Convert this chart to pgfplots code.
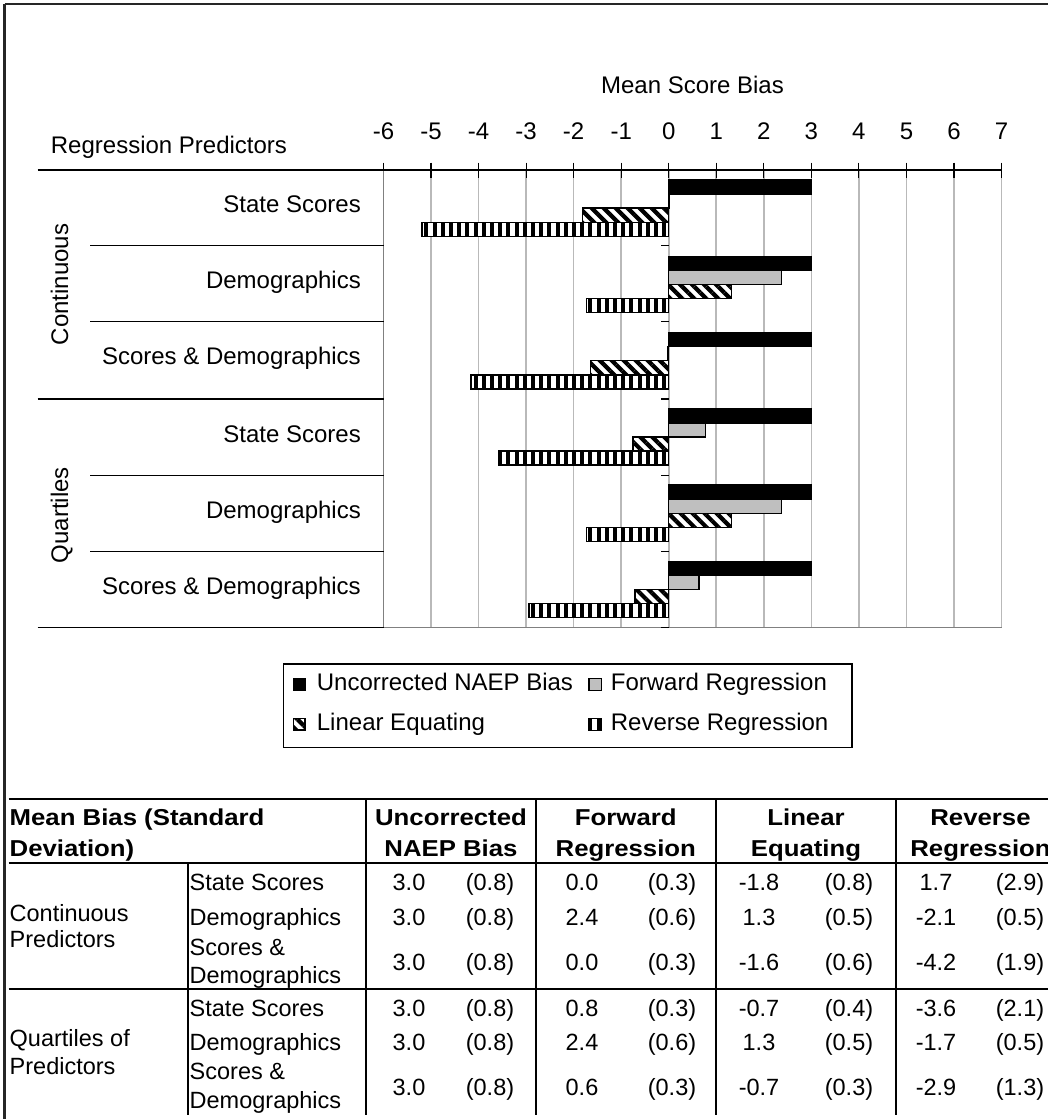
\documentclass[border=0pt]{standalone}
\usepackage{pgfplots}
\usepackage{pgfplotstable}
\pgfplotsset{compat=1.18}
\usepackage{fontspec}
\setmainfont{Liberation Sans}
\newfontfamily\hdfont{Liberation Sans}[FakeStretch=1.12]
\usetikzlibrary{patterns.meta}

\newcommand{\chartfont}{\fontsize{24}{28}\selectfont}
\newcommand{\tabfont}{\fontsize{23.5}{27}\selectfont}
\newcommand{\hdrfont}{\hdfont\bfseries\fontsize{23}{27}\selectfont}

\tikzset{
  lineq/.style={pattern={Lines[angle=-45,distance=8.5pt,line width=4.2pt]}},
  revreg/.style={pattern={Lines[angle=90,distance=8.2pt,line width=4pt]}},
}

% bar lengths (top group first)
\pgfplotstableread{
pos unc fwd lin rev
5 3.0 0.02 -1.81 -5.19
4 3.0 2.37 1.32 -1.73
3 3.0 -0.02 -1.65 -4.16
2 3.0 0.77 -0.75 -3.57
1 3.0 2.37 1.32 -1.73
0 3.0 0.64 -0.71 -2.94
}\biasdata

\begin{document}
\begin{tikzpicture}
\useasboundingbox (0,0) rectangle (1048pt,-1119pt);
\clip (0,0) rectangle (1048pt,-1119pt);

\begin{axis}[
  at={(383.5pt,-170pt)}, anchor=north west,
  scale only axis, width=618pt, height=457.7pt,
  xbar, bar width=14.1pt,
  xmin=-6, xmax=7, ymin=-0.5, ymax=5.5,
  axis x line*=top, axis y line*=left,
  x axis line style={black, line width=1.2pt},
  y axis line style={draw=gray, line width=1.5pt},
  xtick={-6,...,7}, ytick=\empty,
  tick align=center, major tick length=15pt,
  xtick style={black, line width=1.2pt},
  xmajorgrids, grid style={draw=gray!55, line width=1.6pt},
  xticklabel style={font=\chartfont, anchor=base, yshift=23pt},
  /pgf/number format/assume math mode=true,
]
\addplot[draw=black, fill=black, line width=1.4pt, bar shift=21.15pt] table[x=unc, y=pos]{\biasdata};
\addplot[draw=black, fill=gray!50, line width=1.4pt, bar shift=7.05pt] table[x=fwd, y=pos]{\biasdata};
\addplot[draw=black, fill=white, line width=1.4pt, bar shift=-7.05pt, postaction={lineq}] table[x=lin, y=pos]{\biasdata};
\addplot[draw=black, fill=white, line width=1.4pt, bar shift=-21.15pt, postaction={revreg}] table[x=rev, y=pos]{\biasdata};
\end{axis}

\begin{scope}[x=1pt, y=1pt]
  % outer frame
  \draw[line width=2.5pt, black!85] (4.5,-4) -- (1060,-4);
  \draw[line width=2.5pt, black!85] (4.5,-4) -- (4.5,-1130);

  % chart titles
  \node[font=\chartfont, anchor=base, inner sep=0] at (692.5,-93) {Mean Score Bias};
  \node[font=\chartfont, anchor=base west, inner sep=0] at (50.7,-153) {Regression Predictors};

  % bottom of plot area
  \draw[gray, line width=1.5pt] (383.5,-627.7) -- (1001.5,-627.7);

  % category axis lines
  \foreach \yy in {170,399,627.7} \draw[line width=1.2pt] (37.7,-\yy) -- (383.5,-\yy);
  \foreach \yy in {245.7,321.7,475.7,551.7} \draw[line width=1.2pt] (90,-\yy) -- (383.5,-\yy);
  \foreach \yy in {245.7,321.7,399,475.7,551.7,627.7} \draw[line width=1.2pt] (661,-\yy) -- (668.7,-\yy);

  % category labels
  \foreach \yy/\t in {212.3/State Scores, 288/Demographics, 364/Scores \& Demographics,
                      442.3/State Scores, 518.3/Demographics, 594/Scores \& Demographics}
    \node[font=\chartfont, anchor=base east, inner sep=0] at (361,-\yy) {\t};
  \node[font=\chartfont, anchor=base, rotate=90, inner sep=0] at (68,-284.5) {Continuous};
  \node[font=\chartfont, anchor=base, rotate=90, inner sep=0] at (68,-515) {Quartiles};

  % legend
  \draw[line width=1.2pt] (283.5,-664) rectangle (852,-747.5);
  \draw[line width=1.2pt, fill=black] (293.5,-678.5) rectangle (305,-690);
  \draw[line width=1.2pt, fill=gray!50] (589,-678.5) rectangle (601.5,-690.5);
  \draw[line width=1.2pt, fill=white, postaction={lineq}] (293.5,-718.5) rectangle (305,-730);
  \draw[line width=1.2pt, fill=white, postaction={revreg}] (589,-718.5) rectangle (601.5,-730.5);
  \node[font=\chartfont, anchor=base west, inner sep=0] at (316.7,-690.7) {Uncorrected NAEP Bias};
  \node[font=\chartfont, anchor=base west, inner sep=0] at (610.7,-690.7) {Forward Regression};
  \node[font=\chartfont, anchor=base west, inner sep=0] at (316.7,-730.7) {Linear Equating};
  \node[font=\chartfont, anchor=base west, inner sep=0] at (610.7,-730.7) {Reverse Regression};

  % table rules
  \foreach \yy in {799,863.2,989.3} \draw[line width=2pt] (8.5,-\yy) -- (1060,-\yy);
  \draw[line width=2pt] (187.6,-863.2) -- (187.6,-1115);
  \foreach \xx in {366,536,715.6,896} \draw[line width=2pt] (\xx,-799) -- (\xx,-1115);

  % table header
  \node[font=\hdrfont, anchor=base west, inner sep=0] at (9.5,-825.3) {Mean Bias (Standard};
  \node[font=\hdrfont, anchor=base west, inner sep=0] at (9.5,-856) {Deviation)};
  \foreach \xx/\ta/\tb in {451/Uncorrected/NAEP Bias, 625.8/Forward/Regression,
                           806/Linear/Equating, 980.5/Reverse/Regression}{
    \node[font=\hdrfont, anchor=base, inner sep=0] at (\xx,-825.3) {\ta};
    \node[font=\hdrfont, anchor=base, inner sep=0] at (\xx,-856) {\tb};
  }

  % table row labels
  \node[font=\tabfont, anchor=base west, inner sep=0] at (9.5,-921.3) {Continuous};
  \node[font=\tabfont, anchor=base west, inner sep=0] at (9.5,-947.7) {Predictors};
  \node[font=\tabfont, anchor=base west, inner sep=0] at (9.5,-1046.4) {Quartiles of};
  \node[font=\tabfont, anchor=base west, inner sep=0] at (9.5,-1074.5) {Predictors};
  \foreach \yy/\t in {890/State Scores, 925.5/Demographics, 955/Scores \&, 983.2/Demographics,
                      1016/State Scores, 1050.8/Demographics, 1079.5/Scores \&, 1108.3/Demographics}
    \node[font=\tabfont, anchor=base west, inner sep=0] at (189.5,-\yy) {\t};

  % table values: mean (sd) for each method
  \foreach \yy/\a/\b/\c/\d/\e/\f/\g/\h in {
      890/3.0/0.8/0.0/0.3/-1.8/0.8/1.7/2.9,
      925.5/3.0/0.8/2.4/0.6/1.3/0.5/-2.1/0.5,
      970/3.0/0.8/0.0/0.3/-1.6/0.6/-4.2/1.9,
      1016/3.0/0.8/0.8/0.3/-0.7/0.4/-3.6/2.1,
      1050.8/3.0/0.8/2.4/0.6/1.3/0.5/-1.7/0.5,
      1095.8/3.0/0.8/0.6/0.3/-0.7/0.3/-2.9/1.3}{
    \node[font=\tabfont, anchor=base, inner sep=0] at (409,-\yy) {\a};
    \node[font=\tabfont, anchor=base, inner sep=0] at (490,-\yy) {(\b)};
    \node[font=\tabfont, anchor=base, inner sep=0] at (582,-\yy) {\c};
    \node[font=\tabfont, anchor=base, inner sep=0] at (672,-\yy) {(\d)};
    \node[font=\tabfont, anchor=base, inner sep=0] at (759,-\yy) {\e};
    \node[font=\tabfont, anchor=base, inner sep=0] at (849,-\yy) {(\f)};
    \node[font=\tabfont, anchor=base, inner sep=0] at (936,-\yy) {\g};
    \node[font=\tabfont, anchor=base, inner sep=0] at (1020,-\yy) {(\h)};
  }
\end{scope}
\end{tikzpicture}
\end{document}
